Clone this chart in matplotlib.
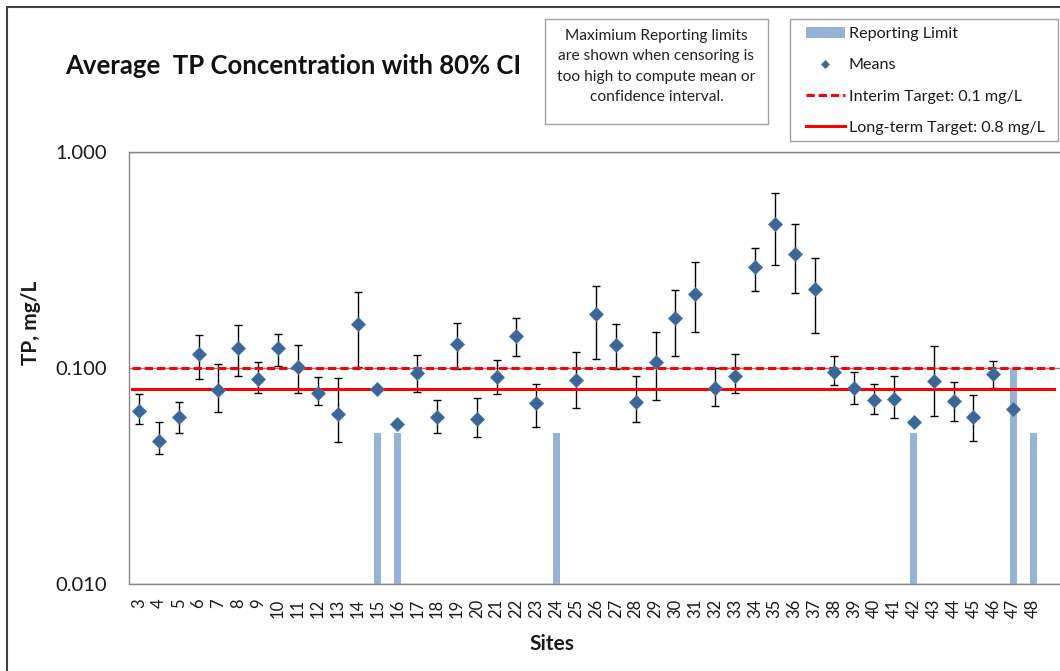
import numpy as np
import matplotlib
matplotlib.use("Agg")
import matplotlib.pyplot as plt
from matplotlib.patches import Rectangle

# ---------------- data ----------------
sites = list(range(3, 49))
nan = np.nan
means = [0.0634, 0.0459, 0.0591, 0.1161, 0.0791, 0.1234, 0.0887, 0.1234, 0.1014, 0.0764,
         0.0610, 0.1598, 0.0802, 0.0549, 0.0945, 0.0595, 0.1291, 0.0579, 0.0912, 0.1406,
         0.0687, nan, 0.0883, 0.1784, 0.1278, 0.0694, 0.1063, 0.1699, 0.2208, 0.0805,
         0.0921, 0.2944, 0.4627, 0.3360, 0.2314, 0.0955, 0.0805, 0.0711, 0.0721, 0.0564,
         0.0873, 0.0703, 0.0595, 0.0935, 0.0648, nan]
ci_low = [0.0549, 0.0399, 0.0498, 0.0892, 0.0626, 0.0915, 0.0766, 0.1018, 0.0766, 0.0672,
          0.0453, 0.1014, nan, nan, 0.0774, 0.0498, 0.0993, 0.0481, 0.0755, 0.1133,
          0.0535, nan, 0.0655, 0.1104, 0.0993, 0.0561, 0.0713, 0.1133, 0.1473, 0.0669,
          0.0766, 0.2265, 0.3007, 0.2232, 0.1457, 0.0832, 0.0679, 0.0610, 0.0589, nan,
          0.0601, 0.0568, 0.0459, 0.0811, nan, nan]
ci_high = [0.0755, 0.0561, 0.0694, 0.1421, 0.1043, 0.1586, 0.1069, 0.1441, 0.1274, 0.0912,
           0.0902, 0.2255, nan, nan, 0.1145, 0.0713, 0.1621, 0.0729, 0.1093, 0.1699,
           0.0840, nan, 0.1190, 0.2404, 0.1603, 0.0915, 0.1473, 0.2290, 0.3085, 0.0997,
           0.1165, 0.3604, 0.6482, 0.4627, 0.3239, 0.1133, 0.0958, 0.0840, 0.0915, nan,
           0.1260, 0.0861, 0.0747, 0.1081, nan, nan]
reporting_limit = [nan] * 12 + [0.05, 0.05] + [nan] * 7 + [0.05] + [nan] * 17 + [0.05] + [nan] * 4 + [0.1, 0.05]
interim_target = 0.1
longterm_target = 0.08
y_ticks = [0.01, 0.1, 1.0]
y_ticklabels = ["0.010", "0.100", "1.000"]

title = "Average  TP Concentration with 80% CI"
note_text = ("Maximium Reporting limits\nare shown when censoring is\n"
             "too high to compute mean or\nconfidence interval.")

# ---------------- figure ----------------
W, H = 1060, 671
fig = plt.figure(figsize=(W / 100, H / 100), dpi=100)
fig.patch.set_facecolor("white")

ax_left, ax_right, ax_top, ax_bottom = 129, 1075, 152, 584
ax = fig.add_axes([ax_left / W, 1 - ax_bottom / H, (ax_right - ax_left) / W, (ax_bottom - ax_top) / H])

x = np.arange(len(sites))
slot_px = 19.87
xlim = (-0.5, -0.5 + (ax_right - ax_left) / slot_px)
ax.set_xlim(*xlim)
ax.set_yscale("log")
ax.set_ylim(0.01, 1.0)

means_a = np.array(means, dtype=float)
lo_a = np.array(ci_low, dtype=float)
hi_a = np.array(ci_high, dtype=float)
rl_a = np.array(reporting_limit, dtype=float)

floor = 1e-3
bars = ax.bar(x, rl_a - floor, bottom=floor, width=0.36, color="#95B3D7",
              zorder=2, label="Reporting Limit")

ax.errorbar(x, means_a, yerr=[means_a - lo_a, hi_a - means_a], fmt="none",
            ecolor="black", elinewidth=1.0, capsize=2.6, capthick=1.0, zorder=3)

line_end = 46.05
xmax_frac = (line_end - xlim[0]) / (xlim[1] - xlim[0])
l_int = ax.axhline(interim_target, xmin=0.003, xmax=xmax_frac, color="#FF0000", lw=2.2,
                   linestyle=(0, (2.7, 1.3)), zorder=4, label="Interim Target: 0.1 mg/L")
l_long = ax.axhline(longterm_target, xmin=0.003, xmax=xmax_frac, color="#FF0000", lw=2.2,
                    zorder=4, label="Long-term Target: 0.8 mg/L")

pts, = ax.plot(x, means_a, linestyle="none", marker="D", ms=7.6, color="#3A6698",
               mec="#4A78AC", mew=0.6, zorder=5, label="Means")

# axes styling
ax.yaxis.grid(True, which="major", color="#868686", lw=1.0, zorder=0)
ax.set_axisbelow(True)
for s in ax.spines.values():
    s.set_color("#868686")
    s.set_linewidth(1.0)
ax.minorticks_off()
ax.set_yticks(y_ticks)
ax.set_yticklabels(y_ticklabels, fontsize=14.5, family="Lato", color="#1a1a1a")
ax.set_xticks(x)
ax.set_xticklabels([str(s) for s in sites], rotation=90, fontsize=12, family="Lato",
                   color="#1a1a1a")
ax.tick_params(axis="y", length=0, pad=15.5)
ax.tick_params(axis="x", length=0, pad=10.5)

# axis titles
fig.text(552 / W, 1 - 644 / H, "Sites", ha="center", va="center", fontsize=15,
         fontweight="bold", family="Lato", color="#1a1a1a")
fig.text(31 / W, 1 - 323 / H, "TP, mg/L", ha="center", va="center", rotation=90,
         fontsize=15, fontweight="bold", family="Lato", color="#1a1a1a")

# title
fig.text(65 / W, 1 - 74 / H, title, ha="left", va="baseline", fontsize=18.5,
         fontweight="bold", family="Lato", color="#111111")

# note box
fig.add_artist(Rectangle((545 / W, 1 - 124 / H), (768 - 545) / W, (124 - 19) / H,
                         transform=fig.transFigure, fill=True, facecolor="white",
                         edgecolor="#A0A0A0", lw=1.0))
fig.text(656.5 / W, 1 - 66.5 / H, note_text, ha="center", va="center", fontsize=11.2,
         family="Lato", color="#222222", linespacing=1.55)

# legend box + legend
fig.add_artist(Rectangle((790 / W, 1 - 141 / H), (1058 - 790) / W, (141 - 19) / H,
                         transform=fig.transFigure, fill=True, facecolor="white",
                         edgecolor="#A0A0A0", lw=1.0))
leg = fig.legend(handles=[bars, pts, l_int, l_long], loc="upper left",
                 bbox_to_anchor=(806 / W, 1 - 27 / H), bbox_transform=fig.transFigure,
                 borderaxespad=0, frameon=False, fontsize=11.6, handlelength=2.4,
                 handletextpad=0.25, labelspacing=1.05, borderpad=0, markerscale=0.6,
                 prop={"family": "Lato", "size": 11.6})
for t in leg.get_texts():
    t.set_color("#1a1a1a")

# outer chart frame
fig.add_artist(Rectangle((7 / W, -0.5), 2.0, 1.5 - 7 / H, transform=fig.transFigure,
                         fill=False, edgecolor="#404040", lw=1.5, clip_on=False))

fig.savefig("out.png", dpi=100)
